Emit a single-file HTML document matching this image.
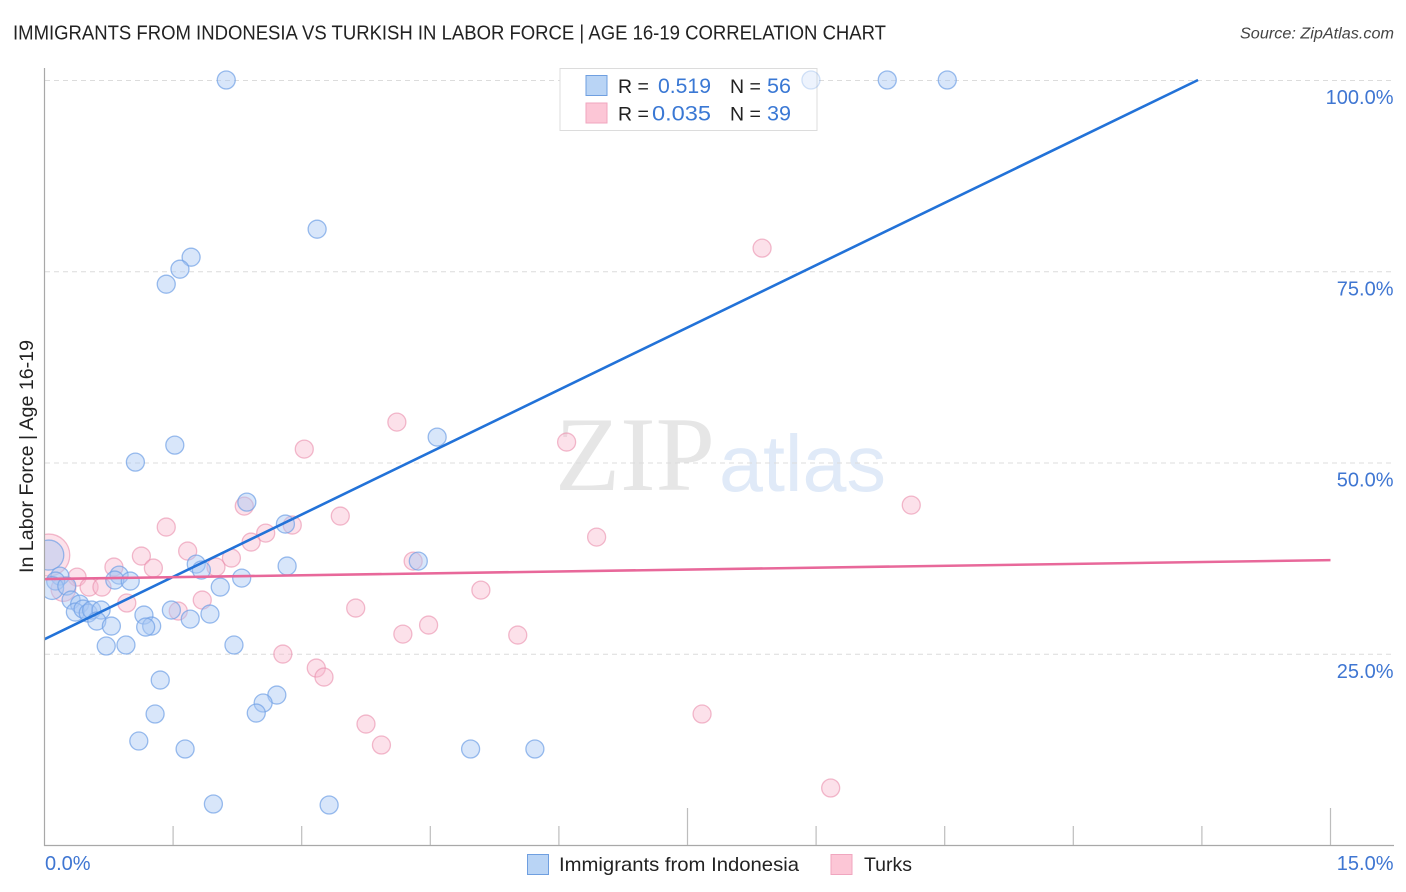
<!DOCTYPE html>
<html lang="en">
<head>
<meta charset="utf-8">
<title>Immigrants from Indonesia vs Turkish in Labor Force | Age 16-19 Correlation Chart</title>
<style>
html,body{margin:0;padding:0;background:#fff;}
body{width:1406px;height:892px;overflow:hidden;}
svg{display:block;font-family:"Liberation Sans",sans-serif;}
</style>
</head>
<body>
<svg id="chart" xmlns="http://www.w3.org/2000/svg" width="1406" height="892" viewBox="0 0 1406 892">
  <defs><clipPath id="plot-clip"><rect x="45" y="60" width="1350" height="786"/></clipPath></defs>
  <text x="13" y="39.5" font-size="20" fill="#222" textLength="873" lengthAdjust="spacingAndGlyphs">IMMIGRANTS FROM INDONESIA VS TURKISH IN LABOR FORCE | AGE 16-19 CORRELATION CHART</text>
  <text x="1394" y="38.5" font-size="15.5" font-style="italic" fill="#444" text-anchor="end" textLength="154" lengthAdjust="spacingAndGlyphs">Source: ZipAtlas.com</text>
  <g>
    <text x="555" y="490" font-family="'Liberation Serif',serif" font-size="106" fill="#e6e6e6" textLength="160" lengthAdjust="spacingAndGlyphs">ZIP</text>
    <text x="719" y="491" font-size="80" fill="#e0eaf8" textLength="167" lengthAdjust="spacingAndGlyphs">atlas</text>
  </g>
  <g id="grid"></g>

  <g>
    <rect x="560" y="68.5" width="257" height="62" fill="#fff" stroke="#dcdcdc" stroke-width="1"/>
    <rect x="586" y="75.5" width="21" height="20" fill="#b9d4f5" stroke="#6f9fe0" stroke-width="1"/>
    <rect x="586" y="103" width="21" height="20" fill="#fcc6d6" stroke="#f0a6bf" stroke-width="1"/>
    <text x="618" y="93" font-size="19.5" fill="#222">R =</text>
    <text x="658" y="93" font-size="21" fill="#3a78d4" textLength="53" lengthAdjust="spacingAndGlyphs">0.519</text>
    <text x="730" y="93" font-size="19.5" fill="#222">N =</text>
    <text x="767" y="93" font-size="21" fill="#3a78d4" textLength="24" lengthAdjust="spacingAndGlyphs">56</text>
    <text x="618" y="120.5" font-size="19.5" fill="#222">R =</text>
    <text x="652" y="120.5" font-size="21" fill="#3a78d4" textLength="59" lengthAdjust="spacingAndGlyphs">0.035</text>
    <text x="730" y="120.5" font-size="19.5" fill="#222">N =</text>
    <text x="767" y="120.5" font-size="21" fill="#3a78d4" textLength="24" lengthAdjust="spacingAndGlyphs">39</text>
  </g>

  <g id="points" clip-path="url(#plot-clip)"></g>
  <g id="lines" clip-path="url(#plot-clip)"></g>
  <g id="axes"></g>
  <text transform="translate(33,573) rotate(-90)" font-size="19.5" fill="#222" textLength="233" lengthAdjust="spacingAndGlyphs">In Labor Force | Age 16-19</text>

  <g>
    <rect x="527.5" y="854.5" width="21" height="20" fill="#b9d4f5" stroke="#6f9fe0" stroke-width="1"/>
    <text x="559" y="871" font-size="19.5" fill="#222" textLength="240" lengthAdjust="spacingAndGlyphs">Immigrants from Indonesia</text>
    <rect x="831" y="854.5" width="21" height="20" fill="#fcc6d6" stroke="#f0a6bf" stroke-width="1"/>
    <text x="864" y="871" font-size="19.5" fill="#222" textLength="48" lengthAdjust="spacingAndGlyphs">Turks</text>
  </g>
</svg>
<script>
// Chart data (percent values)
const indonesiaX = [2.12,8.94,9.83,10.53,3.18,1.71,1.58,1.42,4.58,1.52,1.06,2.36,2.81,4.36,1.77,1.83,2.83,2.30,2.05,0.87,0.82,1.00,0.05,0.18,0.13,0.09,0.26,0.31,0.41,0.36,0.45,0.51,0.55,0.66,0.61,0.78,1.16,1.48,1.70,1.93,1.25,1.18,0.72,0.95,2.21,1.35,2.71,2.55,2.47,1.29,1.10,1.64,4.97,5.72,1.97,3.32];
const indonesiaY = [100,100,100,100,80.5,76.84,75.27,73.31,53.32,52.27,50.05,44.82,41.95,37.11,36.72,35.94,36.46,34.89,33.72,35.28,34.63,34.50,37.90,35.15,34.50,33.59,33.85,32.02,31.49,30.45,30.84,30.32,30.71,30.71,29.27,28.62,30.06,30.71,29.53,30.19,28.62,28.49,26.01,26.14,26.14,21.56,19.60,18.56,17.25,17.12,13.59,12.55,12.55,12.55,5.36,5.23];
const indonesiaWeight = [1,1,1,1,1,1,1,1,1,1,1,1,1,1,1,1,1,1,1,1,1,1,2.78,1,1,1.6,1,1,1,1,1,1,1,1,1,1,1,1,1,1,1,1,1,1,1,1,1,1,1,1,1,1,1,1,1,1];
const turksX = [8.37,4.11,6.09,3.03,10.11,2.33,3.45,2.89,2.58,1.42,6.44,2.41,1.67,2.18,1.13,0.81,1.27,2.00,4.30,0.38,0.52,0.67,0.22,0.96,5.09,1.84,1.56,3.63,4.48,4.18,5.52,2.78,3.17,3.26,7.67,3.75,3.93,9.17,0.05];
const turksY = [78.02,55.28,52.67,51.75,44.43,44.30,43.00,41.82,40.77,41.56,40.25,39.60,38.42,37.51,37.77,36.33,36.20,36.33,37.11,35.02,33.72,33.72,33.45,31.63,33.32,32.02,30.58,30.97,28.75,27.57,27.44,24.96,23.13,21.95,17.12,15.81,13.07,7.45,37.90];
const turksWeight = [1,1,1,1,1,1,1,1,1,1,1,1,1,1,1,1,1,1,1,1,1,1,1.87,1,1,1,1,1,1,1,1,1,1,1,1,1,1,1,5.44];
const indonesiaTrend = [26.9, 100];
const indonesiaTrendX = [0, 13.455];
const turksTrend = [34.76, 37.24];
const turksTrendX = [0, 15];
const yTicks = [25, 50, 75, 100];
const yTickLabels = ["25.0%", "50.0%", "75.0%", "100.0%"];
const xTicks = [0, 1.5, 3, 4.5, 6, 7.5, 9, 10.5, 12, 13.5, 15];
const xMajorTicks = [7.5, 15];
const xEndLabels = ["0.0%", "15.0%"];

// Axis functions
const xScale = v => 44.5 + v * (1330.5 - 44.5) / 15;
const yScale = v => 845 - v * (845 - 80) / 100;
const NS = "http://www.w3.org/2000/svg";
function make(tag, attrs, parent) {
  const el = document.createElementNS(NS, tag);
  for (const k in attrs) el.setAttribute(k, attrs[k]);
  parent.appendChild(el);
  return el;
}
const gridG = document.getElementById("grid");
const axesG = document.getElementById("axes");
const pointsG = document.getElementById("points");
const linesG = document.getElementById("lines");

// Gridlines and y tick labels
yTicks.forEach((t, i) => {
  const gl = make("line", {x1: 45, x2: 1393, y1: yScale(t) + 0.5, y2: yScale(t) + 0.5, stroke: "#dcdcdc", "stroke-width": 1, "stroke-dasharray": "5 4"}, gridG);
  
  
  const lb = make("text", {x: 1393.5, y: yScale(t) + 24, "font-size": 20, fill: "#3f76d2", "text-anchor": "end"}, axesG);
  
  
  lb.textContent = yTickLabels[i];
});

// Axis lines
const yAxis = make("line", {x1: 44.5, x2: 44.5, y1: 68, y2: 846, stroke: "#a8a8a8", "stroke-width": 1.2}, axesG);


const xAxis = make("line", {x1: 44, x2: 1394, y1: 845.5, y2: 845.5, stroke: "#a8a8a8", "stroke-width": 1.2}, axesG);



// X ticks
xTicks.forEach(t => {
  if (t === 0) return;
  const major = xMajorTicks.includes(t);
  const tk = make("line", {x1: xScale(t), x2: xScale(t), y1: major ? 808 : 826, y2: 845, stroke: "#bdbdbd", "stroke-width": 1.2}, axesG);
  
  
});
const xl0 = make("text", {x: 45, y: 870, "font-size": 20, fill: "#3f76d2"}, axesG);


xl0.textContent = xEndLabels[0];
const xl1 = make("text", {x: 1393.5, y: 870, "font-size": 20, fill: "#3f76d2", "text-anchor": "end"}, axesG);


xl1.textContent = xEndLabels[1];

// Points
const radius = w => 9 * Math.sqrt(w);
turksX.forEach((x, i) => {
  const c = make("circle", {cx: xScale(x), cy: yScale(turksY[i]), r: radius(turksWeight[i]), fill: "#f8b8cd", "fill-opacity": 0.42, stroke: "#ea8dac", "stroke-opacity": 0.6, "stroke-width": 1.3}, pointsG);
  
  
});
indonesiaX.forEach((x, i) => {
  const c = make("circle", {cx: xScale(x), cy: yScale(indonesiaY[i]), r: radius(indonesiaWeight[i]), fill: "#a8c8f5", "fill-opacity": 0.45, stroke: "#6f9fe6", "stroke-opacity": 0.7, "stroke-width": 1.3}, pointsG);
  
  
  if (i === 1) c.setAttribute('opacity', '0.45');
});

// Trend lines
const lineBlue = make("line", {x1: xScale(indonesiaTrendX[0]), y1: yScale(indonesiaTrend[0]), x2: xScale(indonesiaTrendX[1]), y2: yScale(indonesiaTrend[1]), stroke: "#2272d8", "stroke-width": 2.6}, linesG);


const linePink = make("line", {x1: xScale(turksTrendX[0]), y1: yScale(turksTrend[0]), x2: xScale(turksTrendX[1]), y2: yScale(turksTrend[1]), stroke: "#e8689a", "stroke-width": 2.6}, linesG);


</script>
</body>
</html>
